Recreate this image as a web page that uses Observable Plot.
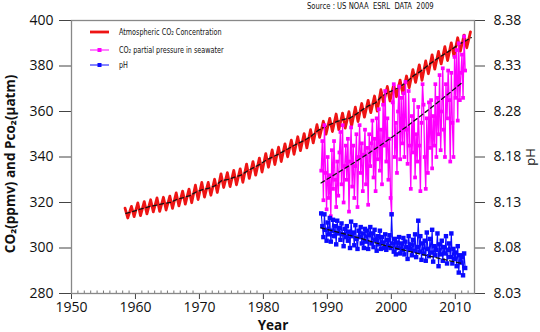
<!DOCTYPE html>
<html>
<head>
<meta charset="utf-8">
<script src="https://cdn.jsdelivr.net/npm/d3@7"></script>
<script src="https://cdn.jsdelivr.net/npm/@observablehq/plot@0.6"></script>
<style>
  html, body { margin: 0; padding: 0; background: #fff; }
  #wrap { position: relative; width: 540px; height: 332px; overflow: hidden; }
  #source { position: absolute; left: 307px; top: 0px; font: 9.5px 'Liberation Sans Narrow', 'DejaVu Sans Condensed', sans-serif; color: #111; white-space: pre; transform: scaleX(0.8); transform-origin: left top; }
  #legend { position: absolute; left: 0; top: 0; }
</style>
</head>
<body>
<div id="wrap"></div>
<script>
// ---- Axis ticks ----
const xTicks = [1950, 1960, 1970, 1980, 1990, 2000, 2010];
const co2Ticks = [280, 300, 320, 340, 360, 380, 400];
const pHTickLabels = ["8.03", "8.08", "8.13", "8.18", "8.28", "8.33", "8.38"];
const minorYears = [1951,1952,1953,1954,1955,1956,1957,1958,1959,1961,1962,1963,1964,1965,1966,1967,1968,1969,1971,1972,1973,1974,1975,1976,1977,1978,1979,1981,1982,1983,1984,1985,1986,1987,1988,1989,1991,1992,1993,1994,1995,1996,1997,1998,1999,2001,2002,2003,2004,2005,2006,2007,2008,2009,2011,2012];

// ---- Atmospheric CO2 (Mauna Loa), seasonal peaks (May) and troughs (Sep/Oct) ----
const co2Years = [1958,1959,1960,1961,1962,1963,1964,1965,1966,1967,1968,1969,1970,1971,1972,1973,1974,1975,1976,1977,1978,1979,1980,1981,1982,1983,1984,1985,1986,1987,1988,1989,1990,1991,1992,1993,1994,1995,1996,1997,1998,1999,2000,2001,2002,2003,2004,2005,2006,2007,2008,2009,2010,2011,2012];
const co2MayPeak = [317.5,318.3,319.8,320.4,321.2,322.0,322.3,322.8,324.2,325.0,325.9,327.6,328.8,328.8,330.2,332.6,333.1,334.1,334.8,336.9,338.0,339.5,341.5,343.1,344.3,345.8,347.4,348.9,350.3,352.0,354.2,355.7,357.0,358.9,359.3,359.9,361.9,363.5,364.9,366.8,369.6,371.0,371.8,373.8,375.6,378.4,380.5,382.2,384.9,386.4,388.5,390.2,392.4,393.6,395.0];
const co2OctTrough = [313.2,313.8,314.2,315.0,315.9,316.1,316.7,317.4,318.5,319.3,319.9,321.3,322.4,323.2,324.4,326.6,327.0,327.8,328.9,330.6,332.0,333.4,335.5,336.7,338.0,340.1,341.2,342.8,344.0,346.2,348.6,350.0,351.2,352.0,352.7,353.6,355.6,357.5,359.5,360.2,363.8,364.6,366.5,367.8,370.5,372.8,373.7,376.6,378.6,380.9,382.4,384.3,386.5,388.0];
const co2Annual = [315.2,315.97,316.91,317.64,318.45,318.99,319.62,320.04,321.38,322.16,323.04,324.62,325.68,326.32,327.45,329.68,330.18,331.11,332.04,333.83,335.40,336.84,338.75,340.11,341.45,343.05,344.65,346.12,347.42,349.19,351.57,353.12,354.39,355.61,356.45,357.10,358.83,360.82,362.61,363.73,366.70,368.38,369.55,371.14,373.28,375.80,377.52,379.80,381.90,383.79,385.60,387.43,389.50,390.90,392.50];

// ---- Ocean station sampling times (decimal years) ----
const hotYears = [
1989.04,1989.21,1989.38,1989.54,1989.71,1989.88,
1990.04,1990.21,1990.38,1990.54,1990.71,1990.88,
1991.04,1991.21,1991.38,1991.54,1991.71,1991.88,
1992.04,1992.21,1992.38,1992.54,1992.71,1992.88,
1993.04,1993.21,1993.38,1993.54,1993.71,1993.88,
1994.04,1994.21,1994.38,1994.54,1994.71,1994.88,
1995.04,1995.21,1995.38,1995.54,1995.71,1995.88,
1996.04,1996.21,1996.38,1996.54,1996.71,1996.88,
1997.04,1997.21,1997.38,1997.54,1997.71,1997.88,
1998.04,1998.21,1998.38,1998.54,1998.71,1998.88,
1999.04,1999.21,1999.38,1999.54,1999.71,1999.88,
2000.04,2000.21,2000.38,2000.54,2000.71,2000.88,
2001.04,2001.21,2001.38,2001.54,2001.71,2001.88,
2002.04,2002.21,2002.38,2002.54,2002.71,2002.88,
2003.04,2003.21,2003.38,2003.54,2003.71,2003.88,
2004.04,2004.21,2004.38,2004.54,2004.71,2004.88,
2005.04,2005.21,2005.38,2005.54,2005.71,2005.88,
2006.04,2006.21,2006.38,2006.54,2006.71,2006.88,
2007.04,2007.21,2007.38,2007.54,2007.71,2007.88,
2008.04,2008.21,2008.38,2008.54,2008.71,2008.88,
2009.04,2009.21,2009.38,2009.54,2009.71,2009.88,
2010.04,2010.21,2010.38,2010.54,2010.71,2010.88,
2011.04,2011.21,2011.38,2011.54];

// ---- Seawater pCO2 (µatm) ----
const pco2Values = [
334,347,321,354,333,317,
340,322,332,314,343,326,
347,330,318,338,323,342,
351,328,354,320,336,345,
330,348,316,338,353,327,
345,322,336,350,318,340,
354,333,346,325,341,352,
328,344,319,350,336,346,
356,331,348,325,357,339,
361,334,352,328,363,345,
369,338,357,330,348,322,
315,364,372,340,355,333,
360,371,339,366,346,368,
340,373,352,337,369,345,
326,358,342,365,331,350,
338,362,345,325,355,372,
363,340,326,357,333,364,
344,365,335,358,345,372,
340,366,350,376,343,360,
379,352,340,372,357,378,
365,338,377,355,340,384,
366,387,356,390,365,377,
385,366,393,378];

// ---- Seawater pH ----
const pHValues = [
8.118,8.104,8.092,8.117,8.100,8.088,
8.108,8.095,8.113,8.087,8.099,8.111,
8.093,8.104,8.084,8.110,8.096,8.102,
8.089,8.107,8.095,8.082,8.101,8.092,
8.104,8.088,8.098,8.080,8.109,8.093,
8.097,8.083,8.105,8.090,8.079,8.099,
8.092,8.103,8.085,8.096,8.080,8.101,
8.087,8.099,8.079,8.094,8.103,8.085,
8.096,8.081,8.100,8.089,8.077,8.093,
8.084,8.099,8.079,8.092,8.086,8.080,
8.095,8.078,8.089,8.082,8.094,8.080,
8.117,8.085,8.076,8.090,8.073,8.086,
8.080,8.092,8.074,8.085,8.078,8.091,
8.073,8.087,8.081,8.068,8.093,8.079,
8.084,8.072,8.089,8.077,8.095,8.070,
8.081,8.110,8.076,8.093,8.067,8.085,
8.074,8.088,8.066,8.097,8.079,8.071,
8.090,8.075,8.100,8.065,8.082,8.072,
8.078,8.096,8.060,8.084,8.073,8.088,
8.066,8.081,8.074,8.093,8.063,8.078,
8.085,8.070,8.096,8.063,8.079,8.068,
8.075,8.060,8.082,8.053,8.072,8.064,
8.070,8.050,8.074,8.058];

// ---- Trend lines (dashed) ----
const pco2TrendYears = [1989, 1995, 2000, 2005, 2011];
const pco2TrendValues = [328.6, 339.0, 348.5, 359.0, 372.5];
const pHTrendYears = [1989, 1995, 2000, 2011];
const pHTrendValues = [8.102, 8.091, 8.081, 8.063];

// ---- Build tables ----
const co2Series = [];
co2Years.forEach((yr, i) => {
  co2Series.push({year: yr + 0.37, v: co2MayPeak[i]});
  if (i < co2OctTrough.length) co2Series.push({year: yr + 0.79, v: co2OctTrough[i]});
});
const co2TrendSeries = co2Years.map((yr, i) => ({year: yr + 0.5, v: co2Annual[i]}));
// pH is shown on the right axis whose labels sit at the left-axis tick positions
const pHToLeft = d3.scaleLinear().domain(pHTickLabels.map(Number)).range(co2Ticks);
const hot = hotYears.map((yr, i) => ({year: yr, pco2: pco2Values[i], ph: pHToLeft(pHValues[i])}));
const pco2Trend = pco2TrendYears.map((yr, i) => ({year: yr, v: pco2TrendValues[i]}));
const pHTrend = pHTrendYears.map((yr, i) => ({year: yr, v: pHToLeft(pHTrendValues[i])}));

const RED = "#ee1414", MAG = "#ff00ff", BLUE = "#0a0aff";
const dash = {stroke: "#111", strokeWidth: 1.3, strokeDasharray: "4,3"};

const chart = Plot.plot({
  width: 540, height: 332,
  marginLeft: 71, marginRight: 66, marginTop: 20, marginBottom: 39,
  x: {domain: [1950, 2013]},
  y: {domain: [280, 400]},
  style: {fontFamily: "'Open Sans', 'Noto Sans', sans-serif", fontSize: "14px", color: "#111", background: "#fff"},
  marks: [
    Plot.axisX(minorYears, {tickSize: -2.5, fill: "none", stroke: "#777", label: null}),
    Plot.axisX({ticks: xTicks, tickSize: 6, tickPadding: 3, tickFormat: d => String(d), stroke: "#444", label: null}),
    Plot.axisY({ticks: co2Ticks, anchor: "left", tickSize: 12, tickPadding: 6, stroke: "#444", label: null}),
    Plot.axisY({ticks: co2Ticks, anchor: "right", tickSize: 10, tickPadding: 9, stroke: "#444",
      tickFormat: d => pHTickLabels[co2Ticks.indexOf(d)], label: null}),
    Plot.frame({stroke: "#888", strokeWidth: 1.3}),
    Plot.line(co2Series, {x: "year", y: "v", stroke: RED, strokeWidth: 2.8, curve: "linear"}),
    Plot.line(co2TrendSeries, {x: "year", y: "v", ...dash}),
    Plot.line(hot, {x: "year", y: "pco2", stroke: MAG, strokeWidth: 1.3}),
    Plot.dot(hot, {x: "year", y: "pco2", symbol: "square", r: 2.1, fill: MAG, stroke: "none"}),
    Plot.line(hot, {x: "year", y: "ph", stroke: BLUE, strokeWidth: 1.1}),
    Plot.dot(hot, {x: "year", y: "ph", symbol: "square", r: 2.5, fill: BLUE, stroke: "none"}),
    Plot.line(pco2Trend, {x: "year", y: "v", curve: "natural", ...dash}),
    Plot.line(pHTrend, {x: "year", y: "v", curve: "natural", ...dash}),
    Plot.text(["CO₂(ppmv) and Pco₂(μatm)"], {frameAnchor: "left", textAnchor: "middle", dx: -61, dy: 7, rotate: -90, fontWeight: "bold", fontSize: 13.5}),
    Plot.text(["pH"], {frameAnchor: "right", textAnchor: "middle", dx: 56, dy: 0, rotate: -90, fontSize: 13}),
    Plot.text(["Year"], {frameAnchor: "bottom", textAnchor: "middle", dy: 36, fontWeight: "bold", fontSize: 13.5})
  ]
});

const wrap = document.getElementById("wrap");
wrap.appendChild(chart);

// Source note
const src = document.createElement("div");
src.id = "source";
src.textContent = "Source : US NOAA  ESRL  DATA  2009";
wrap.appendChild(src);

// Legend overlay
const legendItems = [
  {label: "Atmospheric CO₂ Concentration", color: RED, width: 2.8, marker: false},
  {label: "CO₂ partial pressure in seawater", color: MAG, width: 1, marker: true},
  {label: "pH", color: BLUE, width: 1, marker: true}
];
const legendY = [32, 50, 65];
const lg = d3.select(wrap).append("svg").attr("id", "legend").attr("width", 540).attr("height", 332);
legendItems.forEach((it, i) => {
  const g = lg.append("g").attr("transform", `translate(90,${legendY[i]})`);
  g.append("line").attr("x1", 0).attr("x2", 19).attr("y1", 0).attr("y2", 0).attr("stroke", it.color).attr("stroke-width", it.width);
  if (it.marker) g.append("rect").attr("x", 7.5).attr("y", -2).attr("width", 4).attr("height", 4).attr("fill", it.color);
  g.append("text").attr("transform", "translate(29,3) scale(0.8,1)")
    .attr("font-family", "'Liberation Sans Narrow', 'DejaVu Sans Condensed', sans-serif")
    .attr("font-size", 9).attr("fill", "#111").text(it.label);
});
</script>
</body>
</html>
